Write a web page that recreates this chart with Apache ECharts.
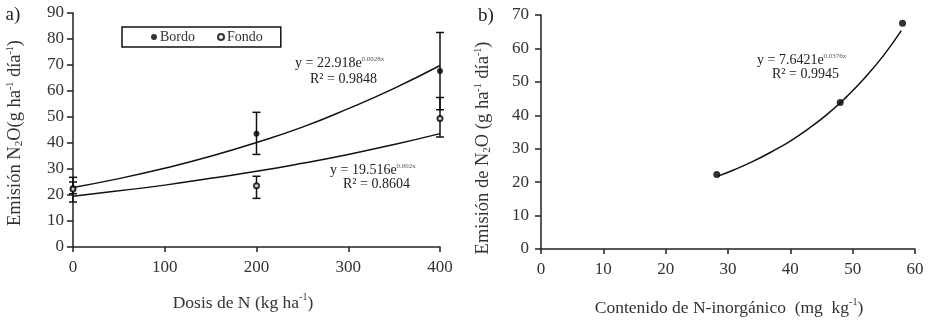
<!DOCTYPE html>
<html>
<head>
<meta charset="utf-8">
<script src="https://cdn.jsdelivr.net/npm/echarts@6/dist/echarts.min.js"></script>
<style>
  html, body { margin: 0; padding: 0; background: #fff; }
  #chart { width: 936px; height: 325px; }
</style>
</head>
<body>
<div id="chart"></div>
<script>
// panel a: dosis de N vs emision
var dosis = [0, 200, 400];
var bordo = [22.6, 43.6, 67.7];
var fondo = [22.3, 23.6, 49.4];
var bordoLo = [20.5, 35.6, 52.8];
var bordoHi = [25.0, 51.8, 82.5];
var fondoLo = [17.3, 18.7, 42.3];
var fondoHi = [26.8, 27.2, 57.5];
// trend lines
var trendX = [0, 50, 100, 150, 200, 250, 300, 350, 400];
var bordoTrend = [22.9, 26.3, 30.3, 34.9, 40.2, 46.1, 53.2, 61.0, 69.8];
var fondoTrend = [19.5, 21.6, 23.8, 26.4, 29.1, 32.2, 35.6, 39.4, 43.6];
var ticksA_x = [0, 100, 200, 300, 400];
var ticksA_y = [0, 10, 20, 30, 40, 50, 60, 70, 80, 90];

// panel b: N inorganico vs emision
var nInorg = [28.2, 48, 58];
var emision = [22.3, 43.8, 67.5];
var trendBX = [28.4, 31, 34, 37, 40, 43, 46, 49, 52, 55, 57.8];
var trendBY = [21.8, 23.7, 26.2, 29.1, 32.3, 36.1, 40.4, 45.5, 51.3, 58.0, 65.3];
var ticksB_x = [0, 10, 20, 30, 40, 50, 60];
var ticksB_y = [0, 10, 20, 30, 40, 50, 60, 70];

var font = '"Liberation Serif", "Times New Roman", serif';
var txt = '#333';

function zip(xs, ys) {
    return xs.map(function (x, i) { return [x, ys[i]]; });
}
function errData(xs, lo, hi) {
    return xs.map(function (x, i) { return [x, lo[i], hi[i]]; });
}
function errorBar(params, api) {
    var p1 = api.coord([api.value(0), api.value(1)]);
    var p2 = api.coord([api.value(0), api.value(2)]);
    var w = 4;
    var st = { stroke: '#111', lineWidth: 1.5 };
    return {
        type: 'group',
        children: [
            { type: 'line', shape: { x1: p1[0], y1: p1[1], x2: p2[0], y2: p2[1] }, style: st },
            { type: 'line', shape: { x1: p1[0] - w, y1: p1[1], x2: p1[0] + w, y2: p1[1] }, style: st },
            { type: 'line', shape: { x1: p2[0] - w, y1: p2[1], x2: p2[0] + w, y2: p2[1] }, style: st }
        ]
    };
}

function axisX(grid, ticks, labelMargin) {
    return {
        type: 'value', gridIndex: grid,
        min: ticks[0], max: ticks[ticks.length - 1], interval: ticks[1] - ticks[0],
        axisLine: { lineStyle: { color: '#222', width: 1.5 } },
        axisTick: { show: true, length: 5, lineStyle: { color: '#222', width: 1.5 } },
        axisLabel: { color: txt, fontFamily: font, fontSize: 17, margin: labelMargin },
        splitLine: { show: false }
    };
}
function axisY(grid, ticks, labelMargin) {
    return {
        type: 'value', gridIndex: grid,
        min: ticks[0], max: ticks[ticks.length - 1], interval: ticks[1] - ticks[0],
        axisLine: { show: true, lineStyle: { color: '#222', width: 1.5 } },
        axisTick: { show: true, length: 6, lineStyle: { color: '#222', width: 1.5 } },
        axisLabel: { color: txt, fontFamily: font, fontSize: 17, margin: labelMargin },
        splitLine: { show: false }
    };
}

function richFor(size) {
    return {
        t: { fontFamily: font, fontSize: size, fill: txt, lineHeight: 20, verticalAlign: 'bottom' },
        sub: { fontFamily: font, fontSize: Math.round(size * 0.62), fill: txt, lineHeight: 20, verticalAlign: 'bottom' },
        sup: { fontFamily: font, fontSize: Math.round(size * 0.55), fill: txt, lineHeight: 20, verticalAlign: 'top' }
    };
}
var richEq = {
    t: { fontFamily: font, fontSize: 14, fill: '#222', lineHeight: 15, verticalAlign: 'bottom' },
    sup: { fontFamily: font, fontSize: 7, fill: '#555', lineHeight: 15, verticalAlign: 'top' }
};

function label(x, y, text, rich, align, rot) {
    return {
        type: 'text', x: x, y: y, rotation: rot || 0, z: 10,
        style: { text: text, rich: rich, align: align || 'center', verticalAlign: 'middle' }
    };
}

var option = {
    backgroundColor: '#fff',
    animation: false,
    grid: [
        { left: 73, right: 496, top: 13, bottom: 78 },
        { left: 541, right: 21, top: 15, bottom: 76 }
    ],
    xAxis: [axisX(0, ticksA_x, 12), axisX(1, ticksB_x, 12)],
    yAxis: [axisY(0, ticksA_y, 9), axisY(1, ticksB_y, 12)],
    legend: {
        data: ['Bordo', 'Fondo'],
        left: 122, top: 27,
        padding: [3, 18, 3, 29],
        itemGap: 22, itemWidth: 6, itemHeight: 6,
        borderColor: '#111', borderWidth: 1.5,
        textStyle: { fontFamily: font, fontSize: 14, color: txt, padding: [0, 0, 0, -2] }
    },
    series: [
        { name: 'trendBordo', type: 'line', xAxisIndex: 0, yAxisIndex: 0, data: zip(trendX, bordoTrend),
          smooth: true, symbol: 'none', lineStyle: { color: '#111', width: 1.5 } },
        { name: 'trendFondo', type: 'line', xAxisIndex: 0, yAxisIndex: 0, data: zip(trendX, fondoTrend),
          smooth: true, symbol: 'none', lineStyle: { color: '#111', width: 1.5 } },
        { name: 'errBordo', type: 'custom', xAxisIndex: 0, yAxisIndex: 0, data: errData(dosis, bordoLo, bordoHi),
          renderItem: errorBar, z: 3 },
        { name: 'errFondo', type: 'custom', xAxisIndex: 0, yAxisIndex: 0, data: errData(dosis, fondoLo, fondoHi),
          renderItem: errorBar, z: 3 },
        { name: 'Bordo', type: 'scatter', xAxisIndex: 0, yAxisIndex: 0, data: zip(dosis, bordo),
          symbol: 'circle', symbolSize: 6, itemStyle: { color: '#000' }, z: 4 },
        { name: 'Fondo', type: 'scatter', xAxisIndex: 0, yAxisIndex: 0, data: zip(dosis, fondo),
          symbol: 'emptyCircle', symbolSize: 5, itemStyle: { color: '#000', borderWidth: 1 }, z: 5 },
        { name: 'trendB', type: 'line', xAxisIndex: 1, yAxisIndex: 1, data: zip(trendBX, trendBY),
          smooth: true, symbol: 'none', lineStyle: { color: '#111', width: 1.5 } },
        { name: 'puntosB', type: 'scatter', xAxisIndex: 1, yAxisIndex: 1, data: zip(nInorg, emision),
          symbol: 'circle', symbolSize: 7, itemStyle: { color: '#000' }, z: 4 }
    ],
    graphic: [
        label(13, 15, '{t|a)}', { t: { fontFamily: font, fontSize: 19, fill: '#222' } }),
        label(486, 16, '{t|b)}', { t: { fontFamily: font, fontSize: 19, fill: '#222' } }),
        label(243, 302, '{t|Dosis de N (kg ha}{sup|-1}{t|)}', richFor(17.5)),
        label(15, 133, '{t|Emisión N}{sub|2}{t|O(g ha}{sup|-1}{t| día}{sup|-1}{t|)}', richFor(18.5), 'center', Math.PI / 2),
        label(729, 307, '{t|Contenido de N-inorgánico  (mg  kg}{sup|-1}{t|)}', richFor(17.5)),
        label(483, 148, '{t|Emisión de N}{sub|2}{t|O (g ha}{sup|-1}{t| día}{sup|-1}{t|)}', richFor(18.5), 'center', Math.PI / 2),
        label(295, 63, '{t|y = 22.918e}{sup|0.0028x}', richEq, 'left'),
        label(310, 79, '{t|R² = 0.9848}', richEq, 'left'),
        label(330, 170, '{t|y = 19.516e}{sup|0.002x}', richEq, 'left'),
        label(343, 184, '{t|R² = 0.8604}', richEq, 'left'),
        label(757, 60, '{t|y = 7.6421e}{sup|0.0376x}', richEq, 'left'),
        label(772, 74, '{t|R² = 0.9945}', richEq, 'left')
    ]
};

var myChart = echarts.init(document.getElementById('chart'));
myChart.setOption(option);
</script>
</body>
</html>
